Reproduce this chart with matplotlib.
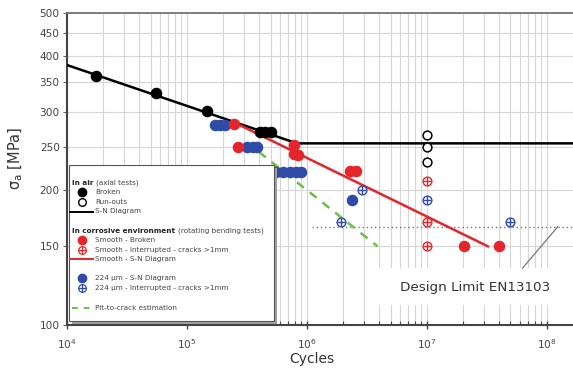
import matplotlib
matplotlib.use("Agg")
import matplotlib.pyplot as plt
from matplotlib.ticker import FixedLocator, LogLocator, NullFormatter, LogFormatterSciNotation
from matplotlib.patches import Rectangle

# ---------------- data ----------------
air_broken_N = [1.77e4, 5.6e4, 1.48e5, 4.07e5, 4.5e5, 5.0e5]
air_broken_S = [361, 331, 301, 271, 271, 271]
air_runout_N = [1e7, 1e7, 1e7]
air_runout_S = [266, 250, 232]
air_sn_N = [1e4, 8.3e5, 1.66e8]
air_sn_S = [382, 255, 255]

smooth_broken_N = [2.5e5, 2.69e5, 7.9e5, 7.9e5, 8.4e5, 2.3e6, 2.58e6, 2.05e7, 4.0e7]
smooth_broken_S = [282, 250, 253, 242, 240, 221, 221, 150, 150]
smooth_int_N = [1e7, 1e7, 1e7]
smooth_int_S = [210, 170, 150]
smooth_sn_N = [2.43e5, 3.24e7]
smooth_sn_S = [285, 150]

pit224_N = [1.72e5, 1.9e5, 2.08e5, 3.16e5, 3.57e5, 3.83e5,
            5.58e5, 6.3e5, 7.26e5, 8.1e5, 9.0e5, 2.39e6]
pit224_S = [280, 280, 280, 250, 250, 250, 220, 220, 220, 220, 220, 190]
pit224_int_N = [1.93e6, 2.89e6, 1e7, 4.95e7]
pit224_int_S = [170, 200, 190, 170]

pit_crack_N = [4.0e5, 3.9e6]
pit_crack_S = [244, 150]

design_limit_N = [1.1e6, 1.66e8]
design_limit_S = [166, 166]
pointer_N = [6.3e7, 1.24e8]
pointer_S = [134, 166]

y_ticks = [100, 150, 200, 250, 300, 350, 400, 450, 500]
x_limits = (1e4, 1.66e8)
y_limits = (100, 500)

# ---------------- style ----------------
RED = "#e4262c"
BLUE = "#2e4ba8"
GREEN = "#6cbf47"
GRID = "#d6d6d6"
TXT = "#444444"

plt.rcParams['font.family'] = ['DejaVu Sans']

fig = plt.figure(figsize=(5.73, 3.69), dpi=100)
W, H = 573, 369
L, R, T, B = 66.7, 573, 12.7, 325
ax = fig.add_axes([L / W, (H - B) / H, (R - L) / W, (B - T) / H])
ax.set_xscale('log')
ax.set_yscale('log')
ax.set_xlim(*x_limits)
ax.set_ylim(*y_limits)

ax.yaxis.set_major_locator(FixedLocator(y_ticks))
ax.yaxis.set_minor_locator(FixedLocator([]))
ax.yaxis.set_major_formatter(plt.FuncFormatter(lambda v, p: f"{int(round(v))}"))
ax.yaxis.set_minor_formatter(NullFormatter())
ax.xaxis.set_major_locator(LogLocator(base=10))
ax.xaxis.set_minor_locator(LogLocator(base=10, subs=range(2, 10)))
ax.xaxis.set_minor_formatter(NullFormatter())
ax.xaxis.set_major_formatter(LogFormatterSciNotation())

ax.set_axisbelow(True)
ax.grid(True, which='both', axis='x', color=GRID, lw=0.8)
ax.grid(True, which='major', axis='y', color=GRID, lw=0.8)

ax.tick_params(axis='y', which='major', direction='out', length=3, width=0.8,
               color='#666666', labelsize=7.6, labelcolor=TXT, pad=2)
ax.tick_params(axis='x', which='major', direction='inout', length=6, width=1,
               color='#444444', labelsize=7.6, labelcolor=TXT, pad=6)
ax.tick_params(axis='x', which='minor', direction='in', length=3, width=0.8,
               color='#444444')
for s in ('left', 'bottom'):
    ax.spines[s].set_color('#444444')
    ax.spines[s].set_linewidth(1.5)
ax.spines['top'].set_color('#777777')
ax.spines['top'].set_linewidth(1.3)
ax.spines['right'].set_visible(False)


def fx(xp):
    return (xp - L) / (R - L)


def fy(yp):
    return (B - yp) / (B - T)


ax.set_xlabel('Cycles', fontsize=10, color='#333333', va='center')
ax.xaxis.set_label_coords(fx(312), fy(359))
ax.set_ylabel('σ$_{\\mathrm{a}}$ [MPa]', fontsize=10.5, color='#333333', va='center')
ax.yaxis.set_label_coords(fx(16), fy(158))

# ---------------- design-limit box & text ----------------
ax.add_patch(Rectangle((fx(372), fy(305)), 1 - fx(372), fy(268) - fy(305),
                       transform=ax.transAxes, facecolor='white', edgecolor='none',
                       zorder=1))
ax.text(fx(475), fy(287.5), 'Design Limit EN13103', transform=ax.transAxes,
        ha='center', va='center', fontsize=9.7, color='#333333', zorder=2)
ax.plot(design_limit_N, design_limit_S, color='#777777', lw=1.0, ls=(0, (1, 2)), zorder=2)
ax.plot(pointer_N, pointer_S, color='#777777', lw=0.9, zorder=2)

# ---------------- lines ----------------
ax.plot(air_sn_N, air_sn_S, color='black', lw=1.8, zorder=3)
ax.plot(smooth_sn_N, smooth_sn_S, color=RED, lw=1.8, zorder=3)
ax.plot(pit_crack_N, pit_crack_S, color=GREEN, lw=1.8, ls=(0, (3.5, 3)), zorder=3)

# ---------------- points ----------------
MS = 7.3
ax.plot(air_broken_N, air_broken_S, 'o', color='black', ms=MS, zorder=5)
ax.plot(air_runout_N, air_runout_S, 'o', mfc='white', mec='black', mew=1.1, ms=6.3, zorder=5)
ax.plot(smooth_broken_N, smooth_broken_S, 'o', color=RED, ms=MS, zorder=5)
ax.plot(pit224_N, pit224_S, 'o', color=BLUE, ms=MS, zorder=4)


def crossed(N, S, c):
    ax.plot(N, S, 'o', mfc='white', mec=c, mew=1.0, ms=6.3, zorder=5)
    ax.plot(N, S, '+', color=c, mew=1.0, ms=6.3, zorder=5)


crossed(smooth_int_N, smooth_int_S, RED)
crossed(pit224_int_N, pit224_int_S, BLUE)

# ---------------- legend (manual) ----------------
ax.add_patch(Rectangle((fx(72), fy(324)), fx(277) - fx(72), fy(168) - fy(324),
                       transform=ax.transAxes, facecolor='#a0a0a0', edgecolor='none',
                       zorder=10, clip_on=False))
ax.add_patch(Rectangle((fx(69), fy(321)), fx(274) - fx(69), fy(165) - fy(321),
                       transform=ax.transAxes, facecolor='white', edgecolor='#555555',
                       lw=0.8, zorder=11, clip_on=False))

LFS = 5.2


def header(yp, bold, rest):
    t = ax.text(fx(72), fy(yp), bold, transform=ax.transAxes, fontsize=LFS,
                fontweight='bold', color='#222222', va='center', ha='left', zorder=12)
    ax.annotate(rest, xy=(1, 0.5), xycoords=t, xytext=(2, 0), textcoords='offset points',
                fontsize=LFS, color=TXT, va='center', ha='left', zorder=12)


def label(yp, s):
    ax.text(fx(95), fy(yp), s, transform=ax.transAxes, fontsize=LFS, color=TXT,
            va='center', ha='left', zorder=12)


def lmark(yp, **kw):
    ax.plot([fx(82)], [fy(yp)], transform=ax.transAxes, clip_on=False, zorder=12, **kw)


def lline(yp, x0, x1, **kw):
    ax.plot([fx(x0), fx(x1)], [fy(yp), fy(yp)], transform=ax.transAxes,
            clip_on=False, zorder=12, **kw)


header(183, 'In air', '(axial tests)')
lmark(192, marker='o', color='black', ms=6)
label(192, 'Broken')
lmark(202, marker='o', mfc='white', mec='black', mew=1.0, ms=5.5)
label(202, 'Run-outs')
lline(211.5, 70, 93, color='black', lw=1.4)
label(211.5, 'S-N Diagram')

header(231, 'In corrosive environment', '(rotating bending tests)')
lmark(240, marker='o', color=RED, ms=6)
label(240, 'Smooth - Broken')
lmark(250, marker='o', mfc='white', mec=RED, mew=0.9, ms=5.5)
lmark(250, marker='+', color=RED, mew=0.9, ms=5.5)
label(250, 'Smooth - Interrupted - cracks >1mm')
lline(259, 70, 93, color=RED, lw=1.4)
label(259, 'Smooth - S-N Diagram')

lmark(278, marker='o', color=BLUE, ms=6)
label(278, '224 µm - S-N Diagram')
lmark(288, marker='o', mfc='white', mec=BLUE, mew=0.9, ms=5.5)
lmark(288, marker='+', color=BLUE, mew=0.9, ms=5.5)
label(288, '224 µm - Interrupted - cracks >1mm')

lline(308, 72, 92, color=GREEN, lw=1.4, ls=(0, (3, 3)))
label(308, 'Pit-to-crack estimation')

fig.savefig('out.png', dpi=100)
